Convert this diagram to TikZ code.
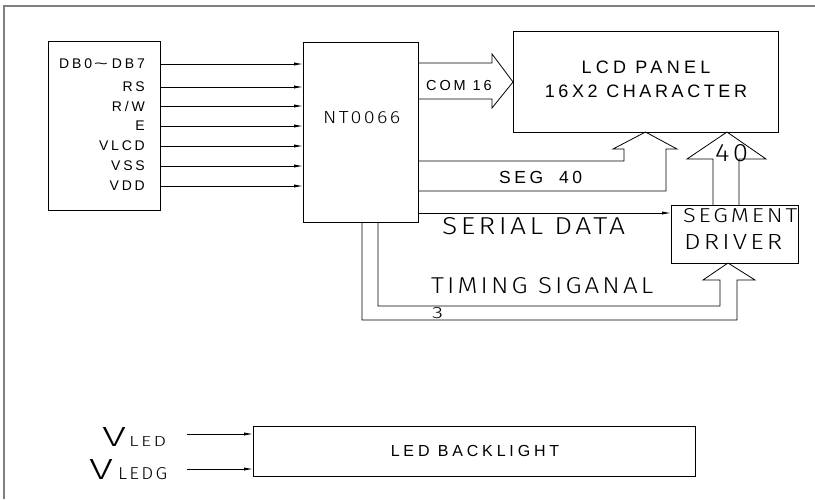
\documentclass[tikz,border=0pt]{standalone}
\usepackage{fontspec}
\usepackage{graphicx}
\setmainfont{Liberation Sans}
\newfontfamily\lab{Liberation Sans}[LetterSpace=20]
\newfontfamily\labw{Liberation Sans}[LetterSpace=24]
\newfontfamily\cad{Fira Sans Light}[LetterSpace=12]
\usetikzlibrary{arrows.meta}
\tikzset{
  box/.style={draw, line width=0.8pt, inner sep=0pt, outer sep=0pt},
  wire/.style={line width=0.8pt},
  sig/.style={line width=0.8pt, -{Latex[length=9pt,width=3.2pt]}},
  lbl/.style={inner sep=0pt, font=\lab\fontsize{14}{15}\selectfont},
  cadtxt/.style={inner sep=0pt, anchor=south west},
}
\newcommand{\cadbox}[3]{\resizebox{#1pt}{#2pt}{\cad\fontsize{20}{20}\selectfont #3}}
\newcommand{\mywidetilde}{\hspace{2pt}\scalebox{1.7}[1]{\textasciitilde}\hspace{4pt}}
\begin{document}
\begin{tikzpicture}[x=1pt,y=-1pt]
\useasboundingbox (0,0) rectangle (815,499);
% frame
\draw[line width=1.5pt, gray] (4,499) -- (4,6) -- (815,6);
% boxes
\node[box, minimum width=112pt, minimum height=169pt] (inbox) at (104,125.5) {};
\node[box, minimum width=115pt, minimum height=180pt] (nt) at (360.5,132) {};
\node[box, minimum width=265pt, minimum height=101pt] (lcd) at (645.5,81.5) {};
\node[box, minimum width=127pt, minimum height=58pt] (seg) at (734.5,234) {};
\node[box, minimum width=442pt, minimum height=50pt] (led) at (474,451) {};
% box texts
\node[cadtxt] (ntt) at (323,124) {\cadbox{77}{12}{NT0066}};
\node[inner sep=0pt, font=\labw\fontsize{18}{20}\selectfont] (lcdt1) at (646,67) {LCD PANEL};
\node[inner sep=0pt, font=\lab\fontsize{18}{20}\selectfont] (lcdt2) at (646,91) {16X2 CHARACTER};
\node[cadtxt] (segt1) at (683,223) {\cadbox{114}{14}{SEGMENT}};
\node[cadtxt] (segt2) at (684,250) {\cadbox{98}{15}{DRIVER}};
\node[inner sep=0pt, font=\labw\fontsize{16}{18}\selectfont] (ledt) at (475,451) {LED BACKLIGHT};
% input signals
\foreach \n/\t/\y in {a/{DB0\mywidetilde DB7}/64, b/{RS}/87, c/{R/W}/106, d/{E}/126, e/{VLCD}/146, f/{VSS}/166, g/{VDD}/186}{
  \node[lbl, anchor=east] (in\n) at (145,\y) {\t};
  \draw[sig] (inbox.east |- 0,\y) -- (nt.west |- 0,\y);
}
% COM 16 hollow arrow
\coordinate (c1) at (nt.east |- 0,63);
\coordinate (c2) at (nt.east |- 0,99);
\draw[wire] (c1) -- (492,63) -- (492,54) -- (lcd.west |- 0,82) -- (492,108) -- (492,99) -- (c2);
\node[inner sep=0pt, font=\lab\fontsize{14.5}{15}\selectfont, anchor=west] (comt) at (426,86) {COM 16};
% SEG 40 hollow arrow
\coordinate (s1) at (nt.east |- 0,161);
\coordinate (s2) at (nt.east |- 0,191);
\draw[wire] (s1) -- (624,161) -- (624,149) -- (613,149) -- (lcd.south |- 0,132) -- (677,149) -- (666,149) -- (666,191) -- (s2);
\node[inner sep=0pt, font=\lab\fontsize{17.5}{18}\selectfont, anchor=west] (segt) at (499,177) {SEG\hspace{16pt}40};
% 40 arrow from segment driver
\coordinate (d1) at (713,205);
\coordinate (d2) at (739,205);
\draw[wire] (d1) -- (713,159) -- (687,159) -- (727,132) -- (766,159) -- (739,159) -- (d2);
\node[cadtxt] (fortyt) at (715,162) {\cadbox{33}{17}{40}};
% serial data
\draw[sig] (nt.east |- 0,213) -- (seg.west |- 0,213);
\node[cadtxt] (sert) at (442,235) {\cadbox{183}{17}{SERIAL DATA}};
% timing signal
\coordinate (t1) at (362,222);
\coordinate (t2) at (378,222);
\draw[wire] (t1) -- (362,320) -- (737,320) -- (737,280) -- (755,280) -- (728,263) -- (703,280) -- (720,280) -- (720,306) -- (378,306) -- (t2);
\node[cadtxt] (timt) at (431,294) {\cadbox{222}{16}{TIMING SIGANAL}};
\node[cadtxt] (threet) at (432,319) {\cadbox{11}{11}{3}};
% LED inputs
\node[cadtxt] (vled) at (102,447) {\cadbox{24}{19}{V}\hspace{3pt}\cadbox{37}{10}{LED}};
\node[cadtxt] (vledg) at (89,480) {\cadbox{24}{20}{V}\hspace{5pt}\cadbox{49}{12}{LEDG}};
\coordinate (l1) at (187,434);
\coordinate (l2) at (187,469);
\draw[sig] (l1) -- (led.west |- 0,434);
\draw[sig] (l2) -- (led.west |- 0,469);
\end{tikzpicture}
\end{document}
